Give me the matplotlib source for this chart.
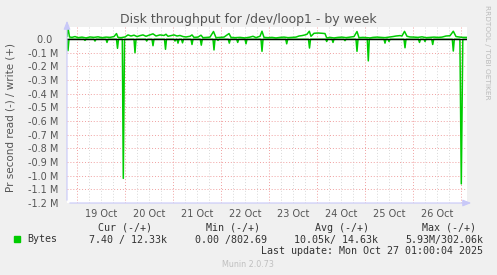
import numpy as np
import matplotlib
matplotlib.use("Agg")
from matplotlib import pyplot as plt

# hours since 19 Oct 00:00, values in bytes/s (k)
write_hours = [-5, -4.5, -3.75, -2.5, -1, 0.5, 2.5, 4.5, 6.5, 8.5, 10.5, 12.5, 14.5, 16.5,
               18.5, 19.75, 20.5, 22, 24, 25.5, 27, 28.5, 30, 31.5, 33, 34.5, 36, 38, 39.5,
               41.5, 43.5, 44.5, 45.5, 47, 48.5, 50, 51.5, 53, 54.5, 56.5, 57.5, 58.5, 60.5,
               62, 63, 65, 66.5, 68.25, 69.5, 71.5, 73.5, 76, 77, 79, 81.5, 84, 86.5, 88,
               89.5, 91.5, 92.5, 93.5, 95.5, 97.5, 99.5, 101.5, 103.5, 105.5, 107.5, 109.5,
               111, 112.5, 114, 115, 116.15, 117, 118.5, 120.5, 122.5, 124, 124.85, 126.5,
               128.5, 130.5, 132.5, 134.5, 136.5, 138.5, 140, 141, 143, 145, 146.5, 148, 150,
               152, 154, 156, 158, 159.5, 161.5, 162.5, 163.75, 165, 166.5, 168.5, 170.5,
               172.5, 174.5, 176.5, 178.5, 180.5, 182.5, 184.5, 186.5, 188.15, 189.5, 191.5,
               193, 195]
write_k = [20, 82, 15, 12, 18, 10, 14, 8, 15, 12, 16, 10, 14, 12,
           18, 40, 12, 10, 15, 30, 22, 28, 18, 25, 30, 20, 28, 38, 22,
           30, 26, 35, 20, 25, 30, 22, 26, 18, 15, 20, 30, 12, 14,
           28, 10, 12, 14, 55, 10, 12, 14, 40, 12, 10, 12, 8, 14, 20,
           10, 20, 57, 12, 10, 12, 8, 12, 14, 10, 12, 14,
           22, 25, 30, 35, 57, 20, 42, 44, 42, 40, 8, 12,
           8, 12, 14, 10, 14, 18, 55, 10, 12, 10, 8, 12, 14,
           12, 10, 14, 18, 22, 25, 22, 56, 20, 15, 14, 12,
           16, 10, 12, 14, 12, 14, 22, 24, 57, 18, 14,
           12, 12]

read_hours = [-5, -4.5, -4, 3.5, 4, 4.5, 8.5, 9, 9.5, 14.5, 15, 15.5, 19.75, 20.25, 20.75,
              22.65, 23.15, 23.75, 28.5, 29, 29.5, 34.35, 34.85, 35.35, 37.5, 38, 38.5,
              43.75, 44.25, 44.75, 48.5, 49, 49.5, 50, 50.5, 51, 52.25, 52.75, 53.25,
              57, 57.5, 58, 61.65, 62.15, 62.65, 68, 68.5, 69, 70, 70.5, 71,
              75.65, 76.15, 76.65, 79.85, 80.35, 80.85, 84, 84.5, 85, 92, 92.5, 93,
              104.35, 104.85, 105.35, 115.75, 116.25, 116.75, 124.35, 124.85, 125.35,
              127.5, 128, 128.5, 133.5, 134, 134.5, 139.5, 140, 140.5, 145.15, 145.65, 146.15,
              153.5, 154, 154.5, 155.5, 156, 156.5, 163.5, 164, 164.5, 170.75, 171.25, 171.75,
              173.5, 174, 174.5, 177.35, 177.85, 178.35, 187.65, 188.15, 188.65,
              191.45, 192.15, 192.9, 195]
read_k = [-3, -85, -2, -2, -10, -2, -2, -15, -2, -2, -25, -2, -2, -68, -2,
          -2, -1020, -3, -2, -100, -2, -2, -15, -2, -2, -49, -2,
          -2, -75, -2, -2, -15, -2, -2, -30, -2, -2, -28, -2,
          -2, -40, -2, -2, -45, -2, -2, -80, -2, -2, -10, -2,
          -2, -30, -2, -2, -25, -2, -2, -35, -2, -2, -90, -2,
          -2, -35, -2, -2, -66, -2, -2, -18, -2,
          -2, -25, -2, -2, -12, -2, -2, -90, -2, -2, -160, -2,
          -2, -30, -2, -2, -18, -2, -2, -64, -2, -2, -25, -2,
          -2, -18, -2, -2, -40, -2, -2, -88, -2,
          -2, -1060, -3, -2]

day_labels = ["19 Oct", "20 Oct", "21 Oct", "22 Oct", "23 Oct", "24 Oct", "25 Oct", "26 Oct"]
y_ticks = [0, -0.1e6, -0.2e6, -0.3e6, -0.4e6, -0.5e6, -0.6e6, -0.7e6, -0.8e6, -0.9e6,
           -1.0e6, -1.1e6, -1.2e6]
y_labels = ["0.0  ", "-0.1 M", "-0.2 M", "-0.3 M", "-0.4 M", "-0.5 M", "-0.6 M", "-0.7 M",
            "-0.8 M", "-0.9 M", "-1.0 M", "-1.1 M", "-1.2 M"]

headers = ["Cur (-/+)", "Min (-/+)", "Avg (-/+)", "Max (-/+)"]
values = ["7.40 / 12.33k", "0.00 /802.69", "10.05k/ 14.63k", "5.93M/302.06k"]

W, H = 497, 275
fig = plt.figure(figsize=(W / 100, H / 100), dpi=100, facecolor="#f0f0f0")
ax = fig.add_axes([67 / W, 1 - 203 / H, 400 / W, 176 / H])
ax.set_facecolor("white")

x0, x1 = -5, 195
ax.set_xlim(x0, x1)
ax.set_ylim(-1.2e6, 0.088e6)

# grid
for h in np.arange(-0, 196, 6):
    if h % 24 == 0:
        ax.axvline(h, color="#f0a0a0", lw=0.7, ls=(0, (1, 2)), zorder=1)
    else:
        ax.axvline(h, color="#d8d8d8", lw=0.7, ls=(0, (1, 2)), zorder=1)
for y in y_ticks[1:]:
    ax.axhline(y, color="#f0a0a0", lw=0.7, ls=(0, (1, 2)), zorder=1)

ax.plot(write_hours, np.array(write_k) * 1000, color="#00cc00", lw=1.1, zorder=3)
ax.plot(read_hours, np.array(read_k) * 1000, color="#00cc00", lw=1.1, zorder=3)
ax.axhline(0, color="black", lw=1.0, zorder=4)

ax.set_xticks([12 + 24 * i for i in range(len(day_labels))])
ax.set_xticklabels(day_labels)
ax.set_yticks(y_ticks)
ax.set_yticklabels(y_labels)
ax.tick_params(axis="both", length=0, labelsize=7, colors="#555555", pad=4)
ax.tick_params(axis="y", pad=6)
for s in ax.spines.values():
    s.set_visible(False)

# axis arrows
fig.add_artist(matplotlib.patches.FancyArrowPatch((67 / W, 1 - 203 / H), (67 / W, 1 - 18 / H),
               transform=fig.transFigure, arrowstyle="-|>,head_width=2,head_length=5",
               color="#c8c8f8", lw=0.8, mutation_scale=1))
fig.add_artist(matplotlib.patches.FancyArrowPatch((67 / W, 1 - 203 / H), (474 / W, 1 - 203 / H),
               transform=fig.transFigure, arrowstyle="-|>,head_width=2,head_length=5",
               color="#c8c8f8", lw=0.8, mutation_scale=1))

fig.text(248 / W, 1 - 19 / H, "Disk throughput for /dev/loop1 - by week", ha="center",
         va="center", fontsize=9, color="#555555")
fig.text(11 / W, 1 - 117 / H, "Pr second read (-) / write (+)", rotation=90, ha="center",
         va="center", fontsize=7.5, color="#555555")
fig.text(487 / W, 1 - 52 / H, "RRDTOOL / TOBI OETIKER", rotation=270, ha="center",
         va="center", fontsize=5.3, color="#bbbbbb")

mono = "DejaVu Sans Mono"
fig.add_artist(matplotlib.patches.Rectangle((14 / W, 1 - 242 / H), 6 / W, 6 / H,
               transform=fig.transFigure, color="#00cc00"))
fig.text(27 / W, 1 - 239.5 / H, "Bytes", family=mono, fontsize=7.2, color="#333333",
         ha="left", va="center")
head_x = [125, 233.5, 342, 449.5]
val_x = [167, 267, 378, 483]
for hx, hd in zip(head_x, headers):
    fig.text(hx / W, 1 - 228 / H, hd, family=mono, fontsize=7.2, color="#333333",
             ha="center", va="center")
for vx, v in zip(val_x, values):
    fig.text(vx / W, 1 - 239.5 / H, v, family=mono, fontsize=7.2, color="#333333",
             ha="right", va="center")
fig.text(483 / W, 1 - 251.5 / H, "Last update: Mon Oct 27 01:00:04 2025", family=mono,
         fontsize=7.2, color="#333333", ha="right", va="center")
fig.text(248 / W, 1 - 264.5 / H, "Munin 2.0.73", fontsize=5.8, color="#c0c0c0",
         ha="center", va="center")

fig.savefig("out.png", dpi=100, facecolor=fig.get_facecolor())
